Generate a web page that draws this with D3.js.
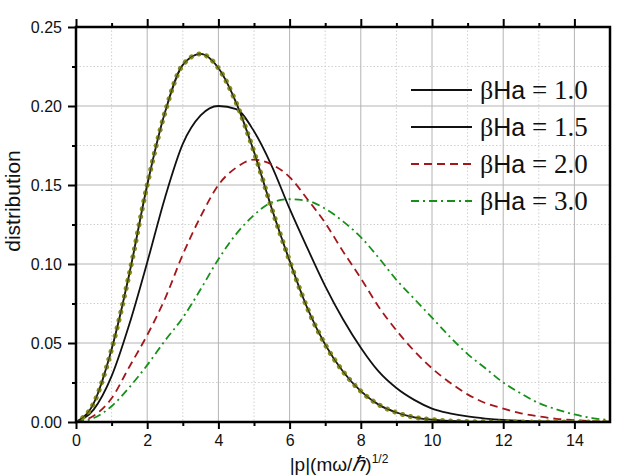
<!DOCTYPE html>
<html>
<head>
<meta charset="utf-8">
<script src="https://cdn.jsdelivr.net/npm/d3@7"></script>
<style>
body { margin: 0; background: #fff; }
text { font-family: "Liberation Sans", Arial, sans-serif; }
</style>
</head>
<body>
<div id="chart"></div>
<script>
// momentum |p| sampled every 0.5
var xs = [0,0.5,1,1.5,2,2.5,3,3.5,4,4.5,5,5.5,6,6.5,7,7.5,8,8.5,9,9.5,10,10.5,11,11.5,12,12.5,13,13.5,14,14.5,15];

// distribution values
var dist_10 = [0,0.012,0.046,0.094,0.150,0.196,0.226,0.233,0.224,0.202,0.171,0.135,0.102,0.072,0.049,0.032,0.0195,0.011,0.006,0.003,0.0015,0.0007,0.0003,0.0001,0,0,0,0,0,0,0];
var dist_15 = [0,0.008,0.029,0.062,0.101,0.142,0.176,0.194,0.200,0.198,0.184,0.162,0.135,0.110,0.086,0.065,0.047,0.032,0.0215,0.014,0.0085,0.0055,0.0035,0.0022,0.0013,0.0008,0.0004,0.0002,0.0001,0,0];
var dist_20 = [0,0.004,0.015,0.035,0.055,0.078,0.106,0.130,0.150,0.161,0.166,0.163,0.155,0.141,0.126,0.108,0.091,0.073,0.058,0.045,0.034,0.025,0.0175,0.012,0.0085,0.0055,0.0035,0.002,0.0012,0.0006,0.0003];
var dist_30 = [0,0.0025,0.010,0.022,0.036,0.0515,0.066,0.084,0.103,0.119,0.131,0.139,0.141,0.140,0.135,0.127,0.117,0.104,0.090,0.078,0.066,0.054,0.043,0.034,0.025,0.018,0.012,0.008,0.0048,0.0025,0.0012];

var legend_labels = ['1.0', '1.5', '2.0', '3.0'];
var x_major = [0,2,4,6,8,10,12,14];
var x_minor = [1,3,5,7,9,11,13,15];
var y_major = [0,0.05,0.10,0.15,0.20,0.25];
var y_minor = [0.025,0.075,0.125,0.175,0.225];

var width = 623, height = 476;
var pLeft = 76, pRight = 610, pTop = 27, pBottom = 422;
var serif = '"Liberation Serif", "Times New Roman", serif';

var svg = d3.select('#chart').append('svg')
    .attr('width', width)
    .attr('height', height);

var x = d3.scaleLinear().domain([0, 15]).range([pLeft, pRight]);
var y = d3.scaleLinear().domain([0, 0.25]).range([pBottom, pTop]);

// grid
var grid = svg.append('g');
grid.selectAll('.vminor').data(x_minor).enter().append('line')
    .attr('x1', d => x(d)).attr('x2', d => x(d))
    .attr('y1', pTop).attr('y2', pBottom)
    .attr('stroke', '#d0d0d0').attr('stroke-dasharray', '1.5,2');
grid.selectAll('.hminor').data(y_minor).enter().append('line')
    .attr('y1', d => y(d)).attr('y2', d => y(d))
    .attr('x1', pLeft).attr('x2', pRight)
    .attr('stroke', '#d0d0d0').attr('stroke-dasharray', '1.5,2');
grid.selectAll('.vmajor').data(x_major.slice(1)).enter().append('line')
    .attr('x1', d => x(d)).attr('x2', d => x(d))
    .attr('y1', pTop).attr('y2', pBottom)
    .attr('stroke', '#b4b4b4').attr('stroke-width', 1);
grid.selectAll('.hmajor').data(y_major.slice(1, -1)).enter().append('line')
    .attr('y1', d => y(d)).attr('y2', d => y(d))
    .attr('x1', pLeft).attr('x2', pRight)
    .attr('stroke', '#b4b4b4').attr('stroke-width', 1);

// curves
svg.append('clipPath').attr('id', 'clip')
  .append('rect').attr('x', pLeft).attr('y', pTop - 5)
    .attr('width', pRight - pLeft).attr('height', pBottom - pTop + 5);

var line = d3.line()
    .x(function(d) { return x(d[0]); })
    .y(function(d) { return y(d[1]); })
    .curve(d3.curveMonotoneX);

var series = [
    {vals: dist_10, color: '#111', dash: null},
    {vals: dist_15, color: '#111', dash: null},
    {vals: dist_20, color: '#a3171b', dash: '8,5'},
    {vals: dist_30, color: '#17901a', dash: '8,4,2,4'}
];

var curves = svg.append('g').attr('clip-path', 'url(#clip)');
series.forEach(function(s) {
    curves.append('path')
        .datum(xs.map(function(v, i) { return [v, s.vals[i]]; }))
        .attr('d', line)
        .attr('fill', 'none')
        .attr('stroke', s.color)
        .attr('stroke-width', 1.8)
        .attr('stroke-dasharray', s.dash);
});
// olive dotted overlay on the first curve
curves.append('path')
    .datum(xs.map(function(v, i) { return [v, dist_10[i]]; }))
    .attr('d', line)
    .attr('fill', 'none')
    .attr('stroke', '#858b17')
    .attr('stroke-width', 5)
    .attr('stroke-linecap', 'round')
    .attr('stroke-dasharray', '0.1,8');
curves.append('path')
    .datum(xs.map(function(v, i) { return [v, dist_10[i]]; }))
    .attr('d', line)
    .attr('fill', 'none')
    .attr('stroke', '#222')
    .attr('stroke-width', 0.9);

// axes
function styleAxis(g) {
    g.select('.domain').remove();
    g.selectAll('.tick line').attr('stroke', '#000').attr('stroke-width', 2);
    g.selectAll('.tick text').style('font-size', '16px').attr('fill', '#111');
}

svg.append('g').attr('transform', 'translate(0,' + pBottom + ')')
    .call(d3.axisBottom(x).tickValues(x_major).tickSize(7).tickPadding(6).tickFormat(d3.format('d')))
    .call(styleAxis);
svg.append('g').attr('transform', 'translate(0,' + pBottom + ')')
    .call(d3.axisBottom(x).tickValues(x_minor.slice(0, -1)).tickSize(4).tickFormat(''))
    .call(styleAxis);
svg.append('g').attr('transform', 'translate(0,' + pTop + ')')
    .call(d3.axisTop(x).tickValues(x_major).tickSize(8).tickFormat(''))
    .call(styleAxis);
svg.append('g').attr('transform', 'translate(0,' + pTop + ')')
    .call(d3.axisTop(x).tickValues(x_minor.slice(0, -1)).tickSize(4).tickFormat(''))
    .call(styleAxis);
svg.append('g').attr('transform', 'translate(' + pLeft + ',0)')
    .call(d3.axisLeft(y).tickValues(y_major).tickSize(8).tickPadding(6).tickFormat(d3.format('.2f')))
    .call(styleAxis);
svg.append('g').attr('transform', 'translate(' + pLeft + ',0)')
    .call(d3.axisLeft(y).tickValues(y_minor).tickSize(4).tickFormat(''))
    .call(styleAxis);

// frame
svg.append('rect')
    .attr('x', pLeft).attr('y', pTop)
    .attr('width', pRight - pLeft).attr('height', pBottom - pTop)
    .attr('fill', 'none').attr('stroke', '#000').attr('stroke-width', 2.5);

// axis titles
svg.append('text')
    .attr('transform', 'translate(20,201) rotate(-90)')
    .attr('text-anchor', 'middle')
    .style('font-size', '21px')
    .attr('fill', '#111')
    .text('distribution');

var xt = svg.append('text')
    .attr('x', 339).attr('y', 471)
    .attr('text-anchor', 'middle')
    .style('font-size', '19px')
    .attr('fill', '#111');
xt.append('tspan').text('|p|(m\u03c9/');
xt.append('tspan').style('font-family', serif).style('font-style', 'italic').style('font-size', '21px').text('\u210f');
xt.append('tspan').text(')');
xt.append('tspan').attr('dy', -8).style('font-size', '12px').text('1/2');

// legend
var legend = svg.append('g');
series.forEach(function(s, i) {
    var ly = 90 + i * 37;
    legend.append('line')
        .attr('x1', 411).attr('x2', 472)
        .attr('y1', ly).attr('y2', ly)
        .attr('stroke', s.color)
        .attr('stroke-width', 1.8)
        .attr('stroke-dasharray', s.dash);
    var t = legend.append('text')
        .attr('x', 480).attr('y', ly + 9)
        .style('font-size', '25px')
        .attr('fill', '#111');
    t.append('tspan').style('font-family', serif).style('font-size', '26px').text('\u03b2');
    t.append('tspan').text('Ha');
    t.append('tspan').style('font-family', serif).style('font-size', '27px').text(' = ' + legend_labels[i]);
});
</script>
</body>
</html>
